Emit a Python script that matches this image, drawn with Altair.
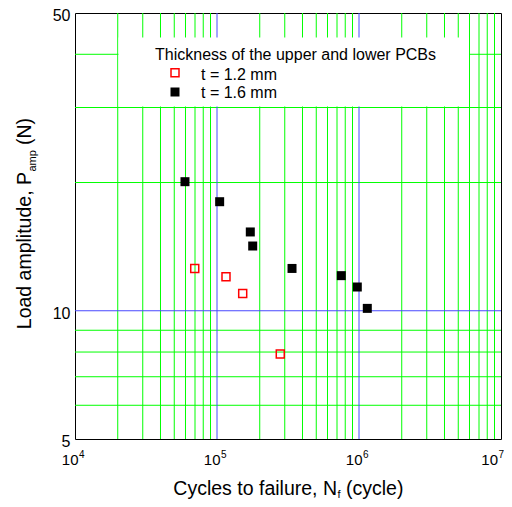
import altair as alt
import pandas as pd

FONT = "Liberation Sans"

# ---- data ----
series_names = ["t = 1.2 mm", "t = 1.6 mm"]
cycles_12 = [69700, 115700, 151700, 279000]
load_12 = [12.57, 12.02, 10.98, 7.92]
cycles_16 = [59500, 104400, 171600, 178400, 337500, 750500, 972800, 1144000]
load_16 = [20.09, 18.03, 15.31, 14.19, 12.57, 12.09, 11.37, 10.13]

x_minor = [2e4, 3e4, 4e4, 5e4, 6e4, 7e4, 8e4, 9e4,
           2e5, 3e5, 4e5, 5e5, 6e5, 7e5, 8e5, 9e5,
           2e6, 3e6, 4e6, 5e6, 6e6, 7e6, 8e6, 9e6]
x_major = [1e5, 1e6]
y_minor = [6, 7, 8, 9, 20, 30, 40]
y_major = [10]
x_tick_vals = [1e4, 1e5, 1e6]
x_tick_exp = ["4", "5", "6"]
x_last_val = [1e7]
x_last_exp = ["7"]
y_tick_vals = [5, 10, 50]
legend_title = "Thickness of the upper and lower PCBs"

df12 = pd.DataFrame({"N": cycles_12, "P": load_12})
df16 = pd.DataFrame({"N": cycles_16, "P": load_16})
one = pd.DataFrame({"a": [0]})

xs = alt.Scale(type="log", domain=[1e4, 1e7], nice=False)
ys = alt.Scale(type="log", domain=[5, 50], nice=False)
yaxis = alt.Axis(values=y_tick_vals, format="d", labelFontSize=16, labelFont=FONT,
                 labelColor="black", ticks=False, domain=False, grid=False,
                 title=None, labelPadding=5, labelOffset=2.5)

def X(field="v"):
    return alt.X(f"{field}:Q", scale=xs, axis=None)

def Y(field="v"):
    return alt.Y(f"{field}:Q", scale=ys, axis=yaxis)

GREEN = "#00ff00"
BLUE = "#4848ff"

vmin = alt.Chart(pd.DataFrame({"v": x_minor})).mark_rule(color=GREEN, strokeWidth=1).encode(x=X())
hmin = alt.Chart(pd.DataFrame({"v": y_minor})).mark_rule(color=GREEN, strokeWidth=1).encode(y=Y())
vmaj = alt.Chart(pd.DataFrame({"v": x_major})).mark_rule(color=BLUE, strokeWidth=1).encode(x=X())
hmaj = alt.Chart(pd.DataFrame({"v": y_major})).mark_rule(color=BLUE, strokeWidth=1).encode(y=Y())

legend_bg = alt.Chart(one).mark_rect(color="white").encode(
    x=alt.value(43.5), x2=alt.value(394), y=alt.value(24.5), y2=alt.value(93.6))

pts12 = alt.Chart(df12).mark_point(shape="square", filled=False, color="red",
                                   strokeWidth=1.5, size=64, opacity=1).encode(x=X("N"), y=Y("P"))
pts16 = alt.Chart(df16).mark_point(shape="square", filled=True, color="black",
                                   size=81, opacity=1).encode(x=X("N"), y=Y("P"))

leg_title = alt.Chart(one).mark_text(align="left", baseline="alphabetic", fontSize=16,
                                     font=FONT, color="black").encode(
    x=alt.value(80), y=alt.value(47), text=alt.value(legend_title))
leg_sym1 = alt.Chart(one).mark_point(shape="square", filled=False, color="red",
                                     strokeWidth=1.5, size=64, opacity=1).encode(
    x=alt.value(100), y=alt.value(59.7))
leg_sym2 = alt.Chart(one).mark_point(shape="square", filled=True, color="black",
                                     size=81, opacity=1).encode(
    x=alt.value(100), y=alt.value(79))
leg_lab1 = alt.Chart(one).mark_text(align="left", baseline="alphabetic", fontSize=16,
                                    font=FONT, color="black").encode(
    x=alt.value(126), y=alt.value(66.5), text=alt.value(series_names[0]))
leg_lab2 = alt.Chart(one).mark_text(align="left", baseline="alphabetic", fontSize=16,
                                    font=FONT, color="black").encode(
    x=alt.value(126), y=alt.value(85.3), text=alt.value(series_names[1]))

dfx = pd.DataFrame({"v": x_tick_vals, "base": ["10"] * len(x_tick_vals), "exp": x_tick_exp})
dfx_last = pd.DataFrame({"v": x_last_val, "base": ["10"], "exp": x_last_exp})
xt_base = alt.Chart(dfx).mark_text(align="right", baseline="alphabetic", dx=3.5,
                                   fontSize=15, font=FONT, color="black").encode(
    x=X(), y=alt.value(452), text="base:N")
xt_exp = alt.Chart(dfx).mark_text(align="left", baseline="alphabetic", dx=4,
                                  fontSize=10, font=FONT, color="black").encode(
    x=X(), y=alt.value(445), text="exp:N")
xt_base_last = alt.Chart(dfx_last).mark_text(align="right", baseline="alphabetic", dx=-3,
                                             fontSize=15, font=FONT, color="black").encode(
    x=X(), y=alt.value(452), text="base:N")
xt_exp_last = alt.Chart(dfx_last).mark_text(align="left", baseline="alphabetic", dx=-2.5,
                                            fontSize=10, font=FONT, color="black").encode(
    x=X(), y=alt.value(445), text="exp:N")

TS = 19.5
XB = 482  # x-title baseline (plot coords)
xtitle1 = alt.Chart(one).mark_text(align="right", baseline="alphabetic", fontSize=TS,
                                   font=FONT, color="black").encode(
    x=alt.value(262), y=alt.value(XB), text=alt.value("Cycles to failure, N"))
xtitle2 = alt.Chart(one).mark_text(align="left", baseline="alphabetic", fontSize=11,
                                   font=FONT, color="black").encode(
    x=alt.value(262.5), y=alt.value(XB + 3), text=alt.value("f"))
xtitle3 = alt.Chart(one).mark_text(align="left", baseline="alphabetic", fontSize=TS,
                                   font=FONT, color="black").encode(
    x=alt.value(271), y=alt.value(XB), text=alt.value("(cycle)"))

ytitle1 = alt.Chart(one).mark_text(align="right", baseline="alphabetic", fontSize=TS,
                                   font=FONT, color="black", angle=270).encode(
    x=alt.value(-44.5), y=alt.value(159), text=alt.value("Load amplitude, P"))
ytitle2 = alt.Chart(one).mark_text(align="left", baseline="alphabetic", fontSize=11,
                                   font=FONT, color="black", angle=270).encode(
    x=alt.value(-39.5), y=alt.value(158.5), text=alt.value("amp"))
ytitle3 = alt.Chart(one).mark_text(align="left", baseline="alphabetic", fontSize=TS,
                                   font=FONT, color="black", angle=270).encode(
    x=alt.value(-44.5), y=alt.value(132), text=alt.value("(N)"))

chart = alt.layer(
    vmin, hmin, vmaj, hmaj, legend_bg, pts12, pts16,
    leg_title, leg_sym1, leg_sym2, leg_lab1, leg_lab2,
    xt_base, xt_exp, xt_base_last, xt_exp_last,
    xtitle1, xtitle2, xtitle3, ytitle1, ytitle2, ytitle3,
).properties(
    width=426, height=426,
    autosize=alt.AutoSizeParams(type="none"),
    padding={"left": 67, "top": 5, "right": 3, "bottom": 60},
    background="white",
).configure_view(stroke="black", strokeWidth=1)

chart.save("out.html", embed_options={"renderer": "svg", "actions": False})
